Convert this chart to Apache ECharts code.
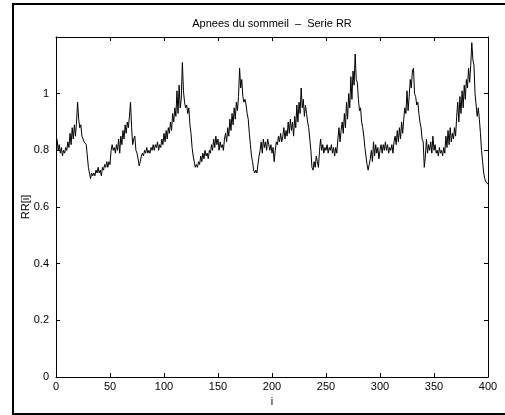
<!DOCTYPE html>
<html>
<head>
<meta charset="utf-8">
<script src="https://cdn.jsdelivr.net/npm/echarts@6/dist/echarts.min.js"></script>
<style>html,body{margin:0;padding:0;background:#fff}#c{width:505px;height:415px}</style>
</head>
<body>
<div id="c"></div>
<script>
var titleText = 'Apnees du sommeil  \u2013  Serie RR';
var xName = 'i';
var yName = 'RR[i]';
var xTicks = [0, 50, 100, 150, 200, 250, 300, 350, 400];
var yTicks = [0, 0.2, 0.4, 0.6, 0.8, 1];
var rr = [
0.84,0.80,0.82,0.79,0.81,0.78,0.80,0.79,0.81,0.80,
0.83,0.81,0.86,0.82,0.88,0.84,0.89,0.85,0.90,0.97,
0.91,0.88,0.89,0.85,0.84,0.83,0.83,0.82,0.78,0.74,
0.72,0.70,0.72,0.71,0.72,0.71,0.73,0.72,0.74,0.72,
0.73,0.71,0.74,0.73,0.75,0.74,0.76,0.74,0.76,0.75,
0.80,0.82,0.80,0.81,0.79,0.82,0.80,0.84,0.79,0.85,
0.82,0.87,0.84,0.89,0.86,0.90,0.88,0.92,0.97,0.88,
0.82,0.84,0.85,0.80,0.79,0.77,0.745,0.76,0.78,0.79,
0.78,0.80,0.79,0.81,0.79,0.80,0.79,0.81,0.80,0.82,
0.80,0.82,0.81,0.83,0.80,0.82,0.81,0.84,0.82,0.86,
0.83,0.87,0.84,0.88,0.86,0.90,0.87,0.93,0.90,0.95,
0.92,1.01,0.93,1.03,0.95,0.98,1.11,1.01,0.97,0.95,
0.96,0.93,0.95,0.89,0.86,0.81,0.78,0.76,0.74,0.75,
0.74,0.76,0.75,0.78,0.76,0.79,0.77,0.80,0.78,0.79,
0.77,0.80,0.79,0.82,0.80,0.84,0.81,0.85,0.82,0.84,
0.80,0.83,0.81,0.82,0.80,0.84,0.86,0.83,0.88,0.85,
0.91,0.87,0.93,0.89,0.95,0.91,0.97,0.94,0.99,1.09,
1.02,1.05,0.99,0.97,0.98,0.96,0.93,0.91,0.86,0.82,
0.78,0.76,0.73,0.72,0.73,0.72,0.75,0.78,0.80,0.83,
0.79,0.84,0.81,0.83,0.80,0.84,0.82,0.80,0.82,0.79,
0.81,0.76,0.80,0.83,0.82,0.85,0.83,0.86,0.83,0.85,
0.88,0.84,0.87,0.85,0.90,0.86,0.91,0.87,0.90,0.85,
0.92,0.88,0.96,0.90,0.97,0.93,1.02,0.95,0.98,0.92,
0.96,0.93,0.90,0.88,0.84,0.80,0.74,0.73,0.76,0.74,
0.78,0.76,0.74,0.80,0.84,0.80,0.82,0.79,0.81,0.80,
0.82,0.79,0.81,0.80,0.82,0.79,0.81,0.78,0.81,0.79,
0.84,0.88,0.83,0.87,0.90,0.86,0.93,0.88,0.97,0.91,
1.00,0.95,1.06,0.98,1.08,1.03,1.14,1.05,1.04,0.98,
0.94,0.95,0.90,0.88,0.85,0.81,0.78,0.75,0.73,0.75,
0.77,0.80,0.76,0.83,0.78,0.82,0.79,0.81,0.77,0.80,
0.82,0.79,0.82,0.80,0.83,0.80,0.82,0.79,0.81,0.80,
0.82,0.79,0.83,0.85,0.82,0.87,0.83,0.88,0.84,0.90,
0.86,0.91,0.95,0.93,1.01,0.94,0.99,1.05,1.02,1.08,
1.09,1.00,0.99,0.96,0.97,0.93,0.90,0.88,0.84,0.83,
0.74,0.78,0.84,0.79,0.82,0.80,0.83,0.79,0.85,0.80,
0.82,0.79,0.80,0.78,0.81,0.79,0.80,0.78,0.81,0.79,
0.85,0.81,0.87,0.82,0.88,0.83,0.86,0.84,0.88,0.85,
0.92,0.97,0.90,0.99,0.93,1.01,0.95,1.03,0.98,1.05,
1.02,1.09,1.04,1.10,1.18,1.12,1.10,1.00,0.96,0.92,
0.95,0.91,0.86,0.80,0.76,0.72,0.70,0.69,0.69,0.68
];

var pts = rr.map(function (v, k) { return [k + 1, v]; });
var font = 'Liberation Sans, Arial, Helvetica, sans-serif';
var lbl = {color: '#000', fontSize: 11, fontFamily: font};

function axisCommon(extra) {
  var o = {
    axisLine: {show: true, onZero: false, lineStyle: {color: '#000', width: 1}},
    axisTick: {show: true, inside: true, length: 4, lineStyle: {color: '#000', width: 1}},
    splitLine: {show: false}
  };
  for (var k in extra) o[k] = extra[k];
  return o;
}

var chart = echarts.init(document.getElementById('c'), null, {renderer: 'canvas'});
chart.setOption({
  animation: false,
  backgroundColor: '#fff',
  grid: {left: 56, right: 17, top: 37, bottom: 38},
  xAxis: [
    axisCommon({type: 'value', min: xTicks[0], max: xTicks[xTicks.length - 1], interval: 50,
      position: 'bottom', name: xName, nameLocation: 'middle', nameGap: 17,
      nameTextStyle: lbl,
      axisLabel: {color: '#000', fontSize: 11, fontFamily: font, margin: 4}}),
    axisCommon({type: 'value', min: xTicks[0], max: xTicks[xTicks.length - 1], interval: 50,
      position: 'top', axisLabel: {show: false}})
  ],
  yAxis: [
    axisCommon({type: 'value', min: 0, max: 1.2, interval: 0.2, position: 'left',
      axisLabel: {color: '#000', fontSize: 11, fontFamily: font, margin: 7,
        formatter: function (v) { var r = Math.round(v * 10) / 10; return yTicks.indexOf(r) >= 0 ? String(r) : ''; }}}),
    axisCommon({type: 'value', min: 0, max: 1.2, interval: 0.2, position: 'right',
      axisLabel: {show: false}})
  ],
  graphic: [
    {type: 'text', x: 272, y: 24, style: {text: titleText, fill: '#000',
      font: '11px ' + font, textAlign: 'center', textVerticalAlign: 'middle'}},
    {type: 'text', x: 26, y: 207, rotation: Math.PI / 2, style: {text: yName, fill: '#000',
      font: '11px ' + font, textAlign: 'center', textVerticalAlign: 'middle'}},
    {type: 'polyline', shape: {points: [[505, 4], [13, 4], [13, 414], [505, 414]]},
      style: {stroke: '#000', lineWidth: 2, fill: null}}
  ],
  series: [{
    type: 'line', data: pts, xAxisIndex: 0, yAxisIndex: 0,
    showSymbol: false, symbol: 'none',
    lineStyle: {color: '#000', width: 1}
  }]
});
</script>
</body>
</html>
